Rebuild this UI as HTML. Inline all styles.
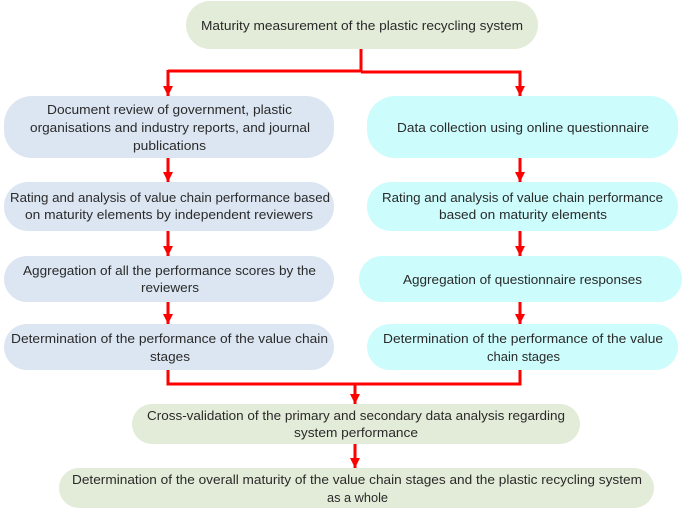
<!DOCTYPE html>
<html><head><meta charset="utf-8"><style>
html,body{margin:0;padding:0;background:#fff;}
svg{display:block;}
text{font-family:"Liberation Sans",sans-serif;font-size:13px;fill:#2a2a2a;}
</style></head><body>
<svg width="685" height="510" viewBox="0 0 685 510" xmlns="http://www.w3.org/2000/svg">
<defs><marker id="a" markerWidth="10" markerHeight="10" refX="5" refY="8" orient="auto" markerUnits="userSpaceOnUse"><path d="M0,0 L10,0 L5,10 Z" fill="#f00"/></marker></defs>
<g fill="none" stroke="#f00" stroke-width="3">
<path d="M361,49 V71 H168"/><path d="M168,70 V96"/><path d="M361,72 H520 V96"/>
<path d="M168,158 V182"/><path d="M520,158 V182"/>
<path d="M168,231 V256"/><path d="M520,231 V256"/>
<path d="M168,302 V324"/><path d="M520,302 V324"/>
<path d="M168,370 V384 H520 V370"/><path d="M355,384 V404"/>
<path d="M355,444 V468"/>
</g>
<g fill="#f00">
<path d="M163,86 L173,86 L168,96 Z"/><path d="M515,86 L525,86 L520,96 Z"/>
<path d="M163,172 L173,172 L168,182 Z"/><path d="M515,172 L525,172 L520,182 Z"/>
<path d="M163,246 L173,246 L168,256 Z"/><path d="M515,246 L525,246 L520,256 Z"/>
<path d="M163,314 L173,314 L168,324 Z"/><path d="M515,314 L525,314 L520,324 Z"/>
<path d="M350,394 L360,394 L355,404 Z"/><path d="M350,458 L360,458 L355,468 Z"/>
</g>
<rect x="186" y="1" width="352" height="48" rx="24" fill="#e2ecd8"/>
<rect x="4" y="96" width="330" height="62" rx="28" fill="#dce6f2"/>
<rect x="367" y="96" width="311" height="62" rx="28" fill="#ccfcfc"/>
<rect x="4" y="182" width="330" height="49" rx="24" fill="#dce6f2"/>
<rect x="367" y="182" width="311" height="49" rx="24" fill="#ccfcfc"/>
<rect x="4" y="256" width="330" height="46" rx="23" fill="#dce6f2"/>
<rect x="359" y="256" width="323" height="46" rx="23" fill="#ccfcfc"/>
<rect x="4" y="324" width="330" height="46" rx="23" fill="#dce6f2"/>
<rect x="367" y="324" width="311" height="46" rx="23" fill="#ccfcfc"/>
<rect x="132" y="404" width="448" height="40" rx="20" fill="#e2ecd8"/>
<rect x="59" y="468" width="595" height="40" rx="20" fill="#e2ecd8"/>
<g lengthAdjust="spacingAndGlyphs">
<text x="201" y="30" textLength="322" lengthAdjust="spacingAndGlyphs">Maturity measurement of the plastic recycling system</text>
<text x="47" y="114" textLength="245" lengthAdjust="spacingAndGlyphs">Document review of government, plastic</text>
<text x="30" y="132" textLength="280" lengthAdjust="spacingAndGlyphs">organisations and industry reports, and journal</text>
<text x="133" y="150" textLength="73" lengthAdjust="spacingAndGlyphs">publications</text>
<text x="397" y="132" textLength="252" lengthAdjust="spacingAndGlyphs">Data collection using online questionnaire</text>
<text x="10" y="202" textLength="320" lengthAdjust="spacingAndGlyphs">Rating and analysis of value chain performance based</text>
<text x="25" y="219" textLength="288" lengthAdjust="spacingAndGlyphs">on maturity elements by independent reviewers</text>
<text x="382" y="202" textLength="281" lengthAdjust="spacingAndGlyphs">Rating and analysis of value chain performance</text>
<text x="439" y="219" textLength="168" lengthAdjust="spacingAndGlyphs">based on maturity elements</text>
<text x="23" y="275" textLength="293" lengthAdjust="spacingAndGlyphs">Aggregation of all the performance scores by the</text>
<text x="141" y="292" textLength="58" lengthAdjust="spacingAndGlyphs">reviewers</text>
<text x="403" y="284" textLength="239" lengthAdjust="spacingAndGlyphs">Aggregation of questionnaire responses</text>
<text x="11" y="343" textLength="317" lengthAdjust="spacingAndGlyphs">Determination of the performance of the value chain</text>
<text x="150" y="361" textLength="40" lengthAdjust="spacingAndGlyphs">stages</text>
<text x="383" y="343" textLength="280" lengthAdjust="spacingAndGlyphs">Determination of the performance of the value</text>
<text x="487" y="361" textLength="73" lengthAdjust="spacingAndGlyphs">chain stages</text>
<text x="147" y="420" textLength="418" lengthAdjust="spacingAndGlyphs">Cross-validation of the primary and secondary data analysis regarding</text>
<text x="294" y="437" textLength="124" lengthAdjust="spacingAndGlyphs">system performance</text>
<text x="72" y="484" textLength="570" lengthAdjust="spacingAndGlyphs">Determination of the overall maturity of the value chain stages and the plastic recycling system</text>
<text x="327" y="502" textLength="61" lengthAdjust="spacingAndGlyphs">as a whole</text>
</g>
</svg>
</body></html>
